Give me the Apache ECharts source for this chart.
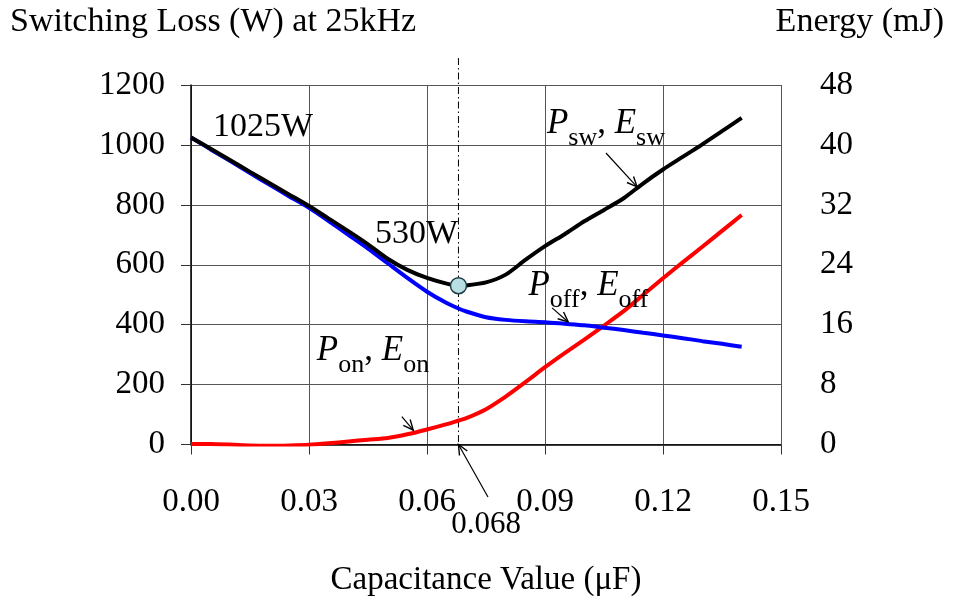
<!DOCTYPE html>
<html>
<head>
<meta charset="utf-8">
<script src="https://cdn.jsdelivr.net/npm/echarts@6/dist/echarts.min.js"></script>
<style>
  html, body { margin: 0; padding: 0; background: #fff; }
  #chart { width: 956px; height: 604px; }
</style>
</head>
<body>
<div id="chart"></div>
<script>
// Snubber capacitance (µF) and the resulting losses at 25 kHz (W)
const capacitance = [0, 0.005, 0.01, 0.015, 0.02, 0.025, 0.03, 0.035, 0.04, 0.045,
  0.05, 0.055, 0.06, 0.065, 0.068, 0.07, 0.075, 0.08, 0.085, 0.09,
  0.095, 0.1, 0.105, 0.11, 0.115, 0.12, 0.125, 0.13, 0.135, 0.14];
const switchingLoss = [1025, 987, 949, 910, 872, 834, 796, 754, 712, 668,
  620, 583, 556, 537, 530, 531, 541, 567, 616, 662,
  702, 745, 783, 822, 872, 918, 960, 1002, 1046, 1090];
const turnOffLoss = [1025, 985, 946, 906, 867, 828, 790, 746, 700, 654,
  605, 556, 510, 472, 454, 444, 425, 416, 411, 408,
  403, 398, 390, 382, 373, 364, 355, 345, 336, 326];
const turnOnLoss = [2, 2, 0, -3, -4, -3, -1, 4, 10, 16,
  22, 34, 50, 68, 80, 88, 118, 160, 208, 258,
  305, 350, 397, 445, 500, 555, 608, 660, 713, 766];

// Optimum operating point
const optimumCap = 0.068;
const optimumLoss = 530;
const zeroCapLoss = 1025;

// Axis ranges
const xTicks = { min: 0, max: 0.15, step: 0.03 };
const lossTicks = { min: 0, max: 1200, step: 200 };
const energyTicks = { min: 0, max: 48, step: 8 };

const FONT = '"Liberation Serif", "Times New Roman", serif';
const chart = echarts.init(document.getElementById('chart'), null, { renderer: 'canvas' });
const pairs = (xs, ys) => xs.map((x, i) => [x, ys[i]]);

const labelStyle = { fontFamily: FONT, fontSize: 33, color: '#000' };
const gridLine = { show: true, lineStyle: { color: '#555', width: 1 } };

chart.setOption({
  animation: false,
  backgroundColor: '#fff',
  grid: { left: 191, right: 175, top: 85, bottom: 159.5 },
  xAxis: {
    type: 'value', min: xTicks.min, max: xTicks.max, interval: xTicks.step,
    axisLine: { onZero: false, lineStyle: { color: '#000', width: 1.5 } },
    axisTick: { show: true, length: 10, lineStyle: { color: '#333', width: 1 } },
    axisLabel: Object.assign({ margin: 41, formatter: v => v.toFixed(2) }, labelStyle),
    splitLine: gridLine
  },
  yAxis: [
    {
      type: 'value', position: 'left', min: lossTicks.min, max: lossTicks.max, interval: lossTicks.step,
      axisLine: { show: true, lineStyle: { color: '#000', width: 1.5 } },
      axisTick: { show: true, length: 10, lineStyle: { color: '#333', width: 1 } },
      axisLabel: Object.assign({ margin: 26, formatter: v => String(v) }, labelStyle),
      splitLine: gridLine
    },
    {
      type: 'value', position: 'right', min: energyTicks.min, max: energyTicks.max, interval: energyTicks.step,
      axisLine: { show: false }, axisTick: { show: false },
      axisLabel: Object.assign({ margin: 39, formatter: v => String(v) }, labelStyle),
      splitLine: { show: false }
    }
  ],
  series: [
    {
      name: 'Pon', type: 'line', data: pairs(capacitance, turnOnLoss), smooth: 0.25,
      showSymbol: false, lineStyle: { color: '#ff0000', width: 4 }, z: 3
    },
    {
      name: 'Poff', type: 'line', data: pairs(capacitance, turnOffLoss), smooth: 0.25,
      showSymbol: false, lineStyle: { color: '#0000ff', width: 4 }, z: 4
    },
    {
      name: 'Psw', type: 'line', data: pairs(capacitance, switchingLoss), smooth: 0.25,
      showSymbol: false, lineStyle: { color: '#000000', width: 4 }, z: 5
    },
    {
      name: 'optimum', type: 'scatter', data: [[optimumCap, optimumLoss]], symbolSize: 16,
      itemStyle: { color: '#b9dfe4', borderColor: '#1d3c44', borderWidth: 1.5, opacity: 1 }, z: 6
    }
  ]
});

// Annotation layer, placed in data coordinates
const toPx = (x, y) => chart.convertToPixel({ xAxisIndex: 0, yAxisIndex: 0 }, [x, y]);

function arrow(from, to) {
  const a = toPx(from[0], from[1]);
  const b = toPx(to[0], to[1]);
  const ang = Math.atan2(b[1] - a[1], b[0] - a[0]);
  const len = 11, spread = 0.42;
  const h1 = [b[0] - len * Math.cos(ang - spread), b[1] - len * Math.sin(ang - spread)];
  const h2 = [b[0] - len * Math.cos(ang + spread), b[1] - len * Math.sin(ang + spread)];
  return [
    { type: 'line', silent: true, z: 20, shape: { x1: a[0], y1: a[1], x2: b[0], y2: b[1] },
      style: { stroke: '#000', lineWidth: 1.2 } },
    { type: 'polyline', silent: true, z: 20, shape: { points: [h1, b, h2] },
      style: { stroke: '#000', lineWidth: 1.4, fill: null } }
  ];
}

// Main symbols are padded underneath so the subscripts sit below their baseline
const richStyles = {
  i: { fontFamily: FONT, fontStyle: 'italic', fontSize: 35, padding: [0, 0, 10, 0], verticalAlign: 'bottom', fill: '#000' },
  n: { fontFamily: FONT, fontSize: 35, padding: [0, 0, 10, 0], verticalAlign: 'bottom', fill: '#000' },
  s: { fontFamily: FONT, fontSize: 26, verticalAlign: 'bottom', fill: '#000' }
};

function label(pos, text, size) {
  const p = toPx(pos[0], pos[1]);
  return { type: 'text', x: p[0], y: p[1], z: 20, silent: true,
    style: { text: text, fontFamily: FONT, fontSize: size || 34, fill: '#000',
      align: 'left', verticalAlign: 'middle' } };
}

function symLabel(pos, sub) {
  const p = toPx(pos[0], pos[1]);
  return { type: 'text', x: p[0], y: p[1], z: 20, silent: true,
    style: { text: '{i|P}{s|' + sub + '}{n|, }{i|E}{s|' + sub + '}', rich: richStyles,
      align: 'left', verticalAlign: 'middle' } };
}

// Dash-dot marker line through the optimum, running a little above the plot
const guideTop = toPx(optimumCap, 1290);
const guideBottom = toPx(optimumCap, lossTicks.min);

const graphics = [
  { type: 'line', silent: true, z: 2,
    shape: { x1: guideTop[0], y1: guideTop[1], x2: guideBottom[0], y2: guideBottom[1] },
    style: { stroke: '#000', lineWidth: 1, lineDash: [7, 3, 1.5, 3] } },
  { type: 'text', x: 10, y: 22, silent: true,
    style: { text: 'Switching Loss (W) at 25kHz', fontFamily: FONT, fontSize: 34, fill: '#000',
      align: 'left', verticalAlign: 'middle' } },
  { type: 'text', x: 944, y: 22, silent: true,
    style: { text: 'Energy (mJ)', fontFamily: FONT, fontSize: 34, fill: '#000',
      align: 'right', verticalAlign: 'middle' } },
  (() => { const p = toPx((xTicks.min + xTicks.max) / 2, 0);
    return { type: 'text', x: p[0], y: 580, silent: true,
      style: { text: 'Capacitance Value (\u03bcF)', fontFamily: FONT, fontSize: 33, fill: '#000',
        align: 'center', verticalAlign: 'middle' } }; })(),
  label([0.0056, 1060], zeroCapLoss + 'W'),
  label([0.0468, 703], optimumLoss + 'W'),
  symLabel([0.0905, 1053], 'sw'),
  symLabel([0.0858, 512], 'off'),
  symLabel([0.032, 296], 'on'),
  (() => { const p = toPx(0.075, 0);
    return { type: 'text', x: p[0], y: 525, silent: true,
      style: { text: String(optimumCap), fontFamily: FONT, fontSize: 31, fill: '#000',
        align: 'center', verticalAlign: 'middle' } }; })()
].concat(
  arrow([0.1055, 973], [0.1134, 860]),
  arrow([0.0918, 456], [0.0959, 409]),
  arrow([0.0536, 93], [0.0565, 48]),
  arrow([0.0755, -175], [optimumCap, 0])
);

chart.setOption({ graphic: graphics });
</script>
</body>
</html>
